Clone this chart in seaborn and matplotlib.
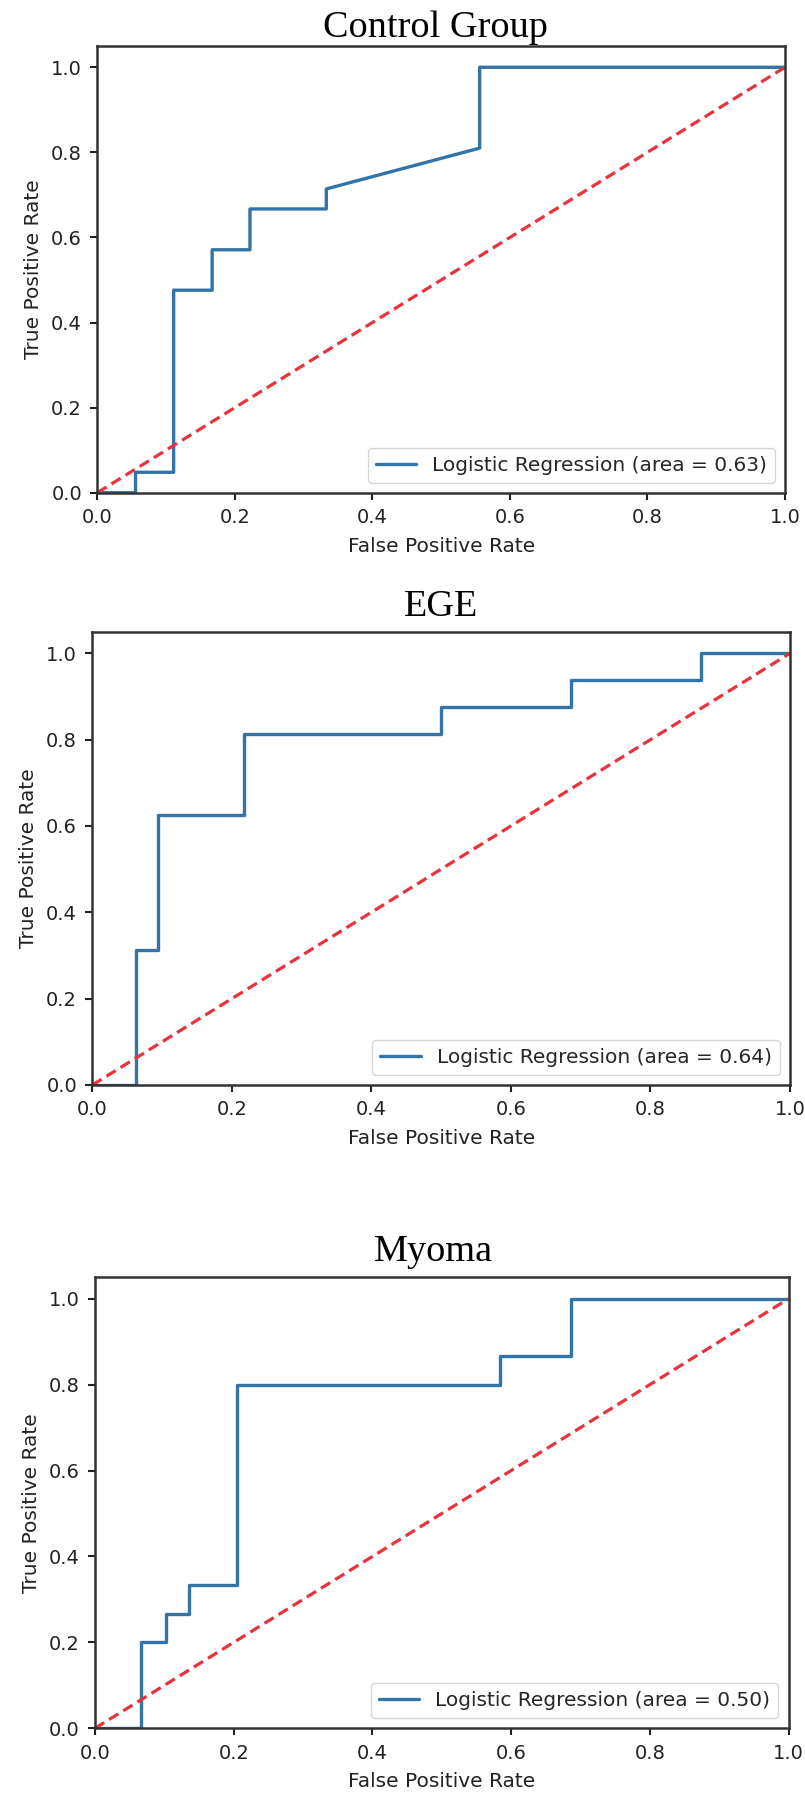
import numpy as np
import pandas as pd
import matplotlib
matplotlib.use("Agg")
import matplotlib.pyplot as plt
import seaborn as sns

# ---- data ----
titles = ["Control Group", "EGE", "Myoma"]
areas = [0.63, 0.64, 0.50]

ctrl_fpr = [0.0, 0.0556, 0.0556, 0.111, 0.111, 0.167, 0.167, 0.222, 0.222, 0.333, 0.333, 0.556, 0.556, 1.0]
ctrl_tpr = [0.0, 0.0, 0.048, 0.048, 0.476, 0.476, 0.571, 0.571, 0.667, 0.667, 0.714, 0.810, 1.0, 1.0]

ege_fpr = [0.0, 0.0625, 0.0625, 0.094, 0.094, 0.217, 0.217, 0.5, 0.5, 0.686, 0.686, 0.873, 0.873, 1.0]
ege_tpr = [0.0, 0.0, 0.3125, 0.3125, 0.625, 0.625, 0.8125, 0.8125, 0.875, 0.875, 0.9375, 0.9375, 1.0, 1.0]

myoma_fpr = [0.0, 0.0667, 0.0667, 0.102, 0.102, 0.136, 0.136, 0.205, 0.205, 0.584, 0.584, 0.687, 0.687, 1.0]
myoma_tpr = [0.0, 0.0, 0.2, 0.2, 0.267, 0.267, 0.333, 0.333, 0.8, 0.8, 0.867, 0.867, 1.0, 1.0]

chance = [0.0, 1.0]
tick_vals = [0.0, 0.2, 0.4, 0.6, 0.8, 1.0]
tick_labels = ["0.0", "0.2", "0.4", "0.6", "0.8", "1.0"]

curves = [(ctrl_fpr, ctrl_tpr), (ege_fpr, ege_tpr), (myoma_fpr, myoma_tpr)]

# ---- style ----
sns.set_style("ticks")
plt.rcParams["font.family"] = ["DejaVu Sans"]

W, H = 805, 1793
fig = plt.figure(figsize=(W / 100, H / 100), dpi=100)
fig.patch.set_facecolor("white")

# axes boxes in pixels: left, right, top, bottom
boxes = [(97.3, 785.0, 46.0, 492.7),
         (92.3, 790.0, 631.7, 1085.0),
         (95.0, 788.5, 1277.3, 1728.3)]
# title centre x, baseline y (pixels)
title_pos = [(435, 37), (441, 616), (433.5, 1261)]

line_color = "#3274a8"
diag_color = "#e8323c"

for i, ((l, r, t, b), (fpr, tpr)) in enumerate(zip(boxes, curves)):
    ax = fig.add_axes([l / W, 1 - b / H, (r - l) / W, (b - t) / H])
    df = pd.DataFrame({"fpr": fpr, "tpr": tpr})
    sns.lineplot(data=df, x="fpr", y="tpr", sort=False, estimator=None,
                 color=line_color, linewidth=2.4,
                 label="Logistic Regression (area = %0.2f)" % areas[i], ax=ax)
    dg = pd.DataFrame({"x": chance, "y": chance})
    sns.lineplot(data=dg, x="x", y="y", sort=False, estimator=None,
                 color=diag_color, linewidth=2.3, linestyle=(0, (3.4, 1.8)), ax=ax)
    ax.set_xlim(0.0, 1.0)
    ax.set_ylim(0.0, 1.05)
    ax.set_xticks(tick_vals)
    ax.set_xticklabels(tick_labels)
    ax.set_yticks(tick_vals)
    ax.set_yticklabels(tick_labels)
    ax.tick_params(axis="both", labelsize=14, length=5, width=1.5,
                   pad=6, colors="#222222")
    for s in ax.spines.values():
        s.set_linewidth(1.8)
        s.set_color("#333333")
    ax.set_xlabel("False Positive Rate", fontsize=14.5, labelpad=7, color="#222222")
    ax.set_ylabel("True Positive Rate", fontsize=14.5, labelpad=6, color="#222222")
    leg = ax.legend(loc="lower right", fontsize=14.5, frameon=True,
                    fancybox=True, framealpha=0.8, borderaxespad=0.5)
    leg.get_frame().set_edgecolor("#cccccc")
    for h in leg.get_lines():
        h.set_linewidth(2.4)
    tx, ty = title_pos[i]
    fig.text(tx / W, 1 - ty / H, titles[i], ha="center", va="baseline",
             fontsize=27.5, family=["Liberation Serif", "DejaVu Serif"], color="black")

fig.savefig("out.png", dpi=100, facecolor="white")
